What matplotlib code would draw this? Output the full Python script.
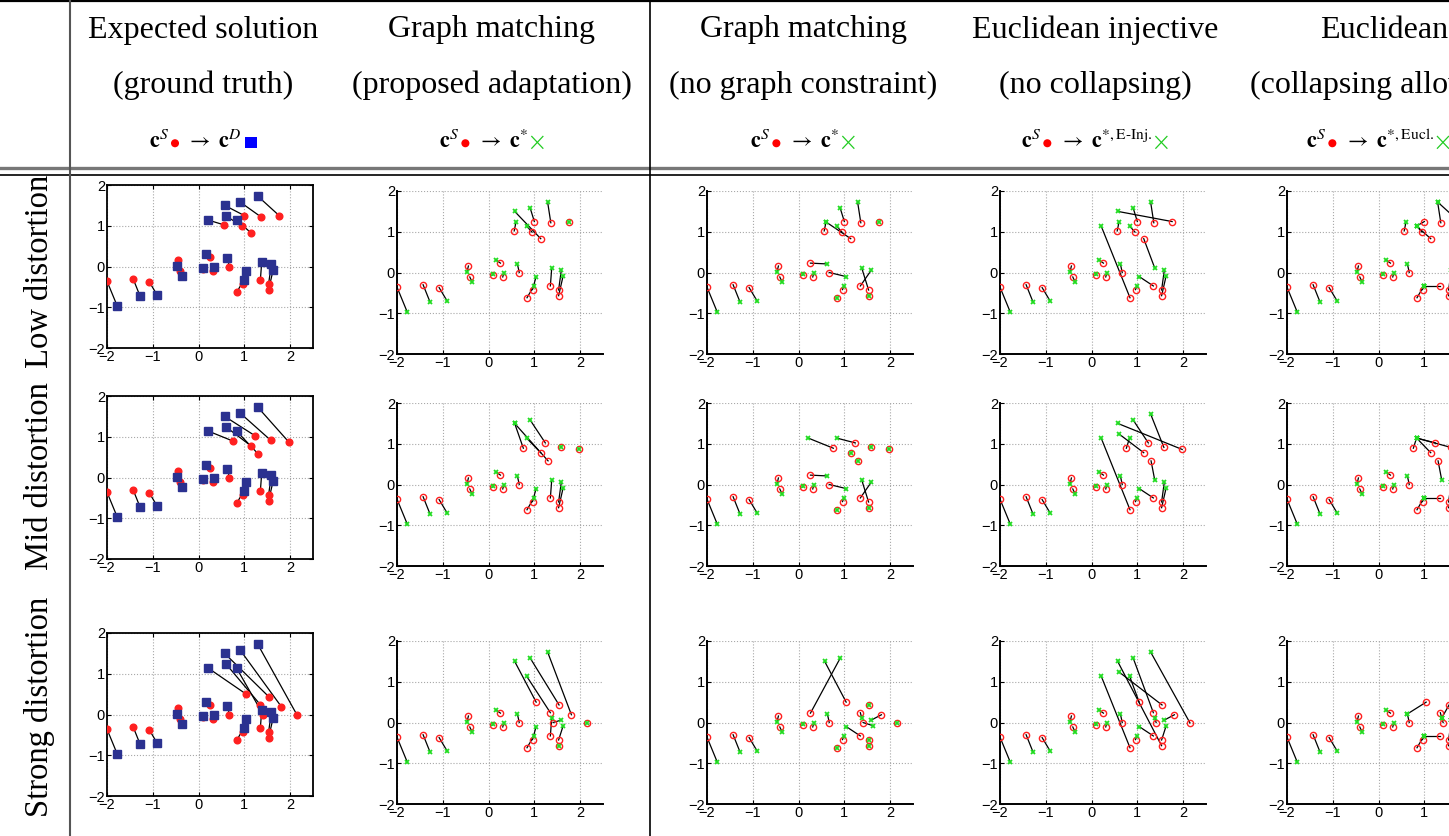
"""
Point-set matching comparison table: 3 distortion levels x 5 methods.
"""
import matplotlib.pyplot as plt
import numpy as np
from matplotlib.lines import Line2D
from matplotlib.patches import Circle, Rectangle
from matplotlib.offsetbox import TextArea, HPacker, AnnotationBbox, DrawingArea

plt.rcParams['mathtext.fontset'] = 'stix'
plt.rcParams['font.family'] = ['Liberation Sans', 'DejaVu Sans']

# ---- data -----------------------------------------------------------------
# destination points c^D (same for every distortion level)
dest_x = [-1.78, -1.28, -0.91, -0.47, -0.36, 0.10, 0.17, 0.33, 0.63, 0.99,
          1.04, 1.38, 1.59, 1.63, 0.21, 0.57, 0.60, 0.83, 0.91, 1.29]
dest_y = [-0.96, -0.72, -0.69, 0.02, -0.23, -0.03, 0.30, -0.02, 0.21, -0.33,
          -0.10, 0.11, 0.06, -0.08, 1.14, 1.50, 1.24, 1.14, 1.58, 1.73]

# source points c^S: 14 shared points + 6 distorted points per level
src_base_x = [-2.00, -1.43, -1.08, -0.44, -0.41, 0.09, 0.26, 0.31, 0.67,
              0.84, 0.96, 1.35, 1.53, 1.53]
src_base_y = [-0.36, -0.30, -0.37, 0.16, -0.11, -0.06, 0.23, -0.11, 0.00,
              -0.62, -0.42, -0.33, -0.43, -0.57]
src_top_x = {'low': [0.56, 1.00, 0.95, 1.14, 1.36, 1.76],
             'mid': [0.76, 1.24, 1.14, 1.30, 1.58, 1.98],
             'strong': [1.04, 1.54, 1.35, 1.41, 1.81, 2.15]}
src_top_y = {'low': [1.02, 1.25, 0.99, 0.83, 1.22, 1.25],
             'mid': [0.89, 1.02, 0.78, 0.58, 0.91, 0.86],
             'strong': [0.50, 0.43, 0.24, 0.00, 0.19, -0.01]}

levels = ['low', 'mid', 'strong']
row_labels = ['Low distortion', 'Mid distortion', 'Strong distortion']

# matched destination index for every source point (-1: stays in place)
base = list(range(9))
match_gm = {'low': base + [9, 10, 11, 12, 13, 16, 18, 17, 15, 19, -1],
            'mid': base + [9, 10, 11, 12, 13, 15, 18, 17, 15, -1, -1],
            'strong': base + [9, 10, 11, 13, -1, 15, 18, 17, 12, 19, -1]}
match_nograph = {'low': [0, 1, 2, 3, 4, 5, 8, 7, 10, -1, 9, 12, 11, -1,
                         16, 18, 17, 16, 19, -1],
                 'mid': [0, 1, 2, 3, 4, 5, 8, 7, 10, -1, 9, 12, 11, -1,
                         14, 17, -1, -1, -1, -1],
                 'strong': [0, 1, 2, 3, 4, 5, 18, 7, 8, -1, 9, 10, -1, -1,
                            15, -1, 11, 13, 12, -1]}
match_einj = {'low': base + [14, 9, 10, 12, 13, 16, 18, 17, 11, 19, 15],
              'mid': base + [14, 9, 10, 12, 13, 17, 18, 16, 11, 19, 15],
              'strong': base + [14, 9, 10, 13, 15, 17, 16, 18, 11, 12, 19]}
match_eucl = {'low': base + [9, 9, 9, 12, 13, 16, 17, 17, 17, 19, 19],
              'mid': base + [9, 9, 9, 12, 13, 17, 17, 17, 11, 17, 12],
              'strong': base + [9, 9, 9, 12, 13, 8, 11, 11, 11, 12, 12]}
methods = [match_gm, match_nograph, match_einj, match_eucl]

head1 = ['Expected solution', 'Graph matching', 'Graph matching',
         'Euclidean injective', 'Euclidean']
head2 = ['(ground truth)', '(proposed adaptation)', '(no graph constraint)',
         '(no collapsing)', '(collapsing allowed)']
head_target = [r'$\ \rightarrow\ \mathbf{c}^{D}$', r'$\ \rightarrow\ \mathbf{c}^{*}$',
               r'$\ \rightarrow\ \mathbf{c}^{*}$',
               r'$\ \rightarrow\ \mathbf{c}^{*,\mathrm{E\text{-}Inj.}}$',
               r'$\ \rightarrow\ \mathbf{c}^{*,\mathrm{Eucl.}}$']

# ---- layout ---------------------------------------------------------------
W, H = 1449, 836
fig = plt.figure(figsize=(W / 100, H / 100), dpi=100)


def fx(px):
    return px / W


def fy(py):
    return 1 - py / H


RED = '#ff2020'
NAVY = '#2b3190'
GREEN = '#22dd22'
col_left = [107, 397, 707, 1000, 1287]
col_w = 206
top_gt = [185, 396, 633]
top_other = [191, 403, 641]
ax_h = 163

D = np.column_stack([dest_x, dest_y])

for r, lev in enumerate(levels):
    S = np.column_stack([src_base_x + src_top_x[lev],
                         src_base_y + src_top_y[lev]])
    for c in range(5):
        top = top_gt[r] if c == 0 else top_other[r]
        ax = fig.add_axes([fx(col_left[c]), fy(top + ax_h),
                           col_w / W, ax_h / H])
        ax.set_xlim(-2, 2.5)
        ax.set_ylim(-2, 2)
        ax.set_xticks([-2, -1, 0, 1, 2])
        ax.set_yticks([-2, -1, 0, 1, 2])
        ax.grid(True, linestyle=':', color='#a8a8a8', linewidth=0.8)
        ax.set_axisbelow(True)
        ax.tick_params(direction='in', length=3, width=0.8, pad=1.5,
                       labelsize=10.5)
        if c == 0:
            ax.tick_params(top=True, right=True)
            for sp in ax.spines.values():
                sp.set_linewidth(1.3)
            for i in range(len(S)):
                ax.plot([S[i, 0], D[i, 0]], [S[i, 1], D[i, 1]],
                        color='k', lw=0.9, zorder=2)
            ax.plot(S[:, 0], S[:, 1], 'o', color=RED, ms=4.8, mec=RED,
                    zorder=3)
            ax.plot(D[:, 0], D[:, 1], 's', color=NAVY, ms=6.2, mec=NAVY,
                    zorder=4)
        else:
            ax.spines['top'].set_visible(False)
            ax.spines['right'].set_visible(False)
            ax.spines['left'].set_linewidth(1.4)
            ax.spines['bottom'].set_linewidth(1.4)
            idx = np.array(methods[c - 1][lev])
            T = np.where(idx[:, None] < 0, S, D[np.clip(idx, 0, None)])
            for i in range(len(S)):
                ax.plot([S[i, 0], T[i, 0]], [S[i, 1], T[i, 1]],
                        color='k', lw=0.9, zorder=2)
            ax.plot(S[:, 0], S[:, 1], 'o', mfc='none', mec=RED, ms=4.5,
                    mew=1.0, zorder=3)
            ax.plot(T[:, 0], T[:, 1], 'x', color=GREEN, ms=3, mew=1.3,
                    zorder=4)

# ---- table lines ----------------------------------------------------------
def hline(y, color, lw):
    fig.add_artist(Line2D([0, 1], [fy(y), fy(y)], transform=fig.transFigure,
                          color=color, lw=lw))


def vline(x, color, lw):
    fig.add_artist(Line2D([fx(x), fx(x)], [0, 1], transform=fig.transFigure,
                          color=color, lw=lw))


hline(1, 'black', 1.6)
hline(168, '#777777', 2.4)
hline(175, 'black', 1.2)
vline(70, '#555555', 1.5)
vline(650, 'black', 1.2)

# ---- header ---------------------------------------------------------------
serif = 'Liberation Serif'


def red_dot():
    da = DrawingArea(7, 9, 0, 0)
    da.add_artist(Circle((3.5, 3.6), 2.9, color='red', lw=0))
    return da


def blue_square():
    da = DrawingArea(10, 9, 0, 0)
    da.add_artist(Rectangle((1.2, 0), 8.2, 8.2, color='#0000ff', lw=0))
    return da


def green_cross():
    da = DrawingArea(11, 9, 0, 0)
    da.add_artist(Line2D([1.5, 9.5], [0, 8.5], color='#22cc22', lw=0.9))
    da.add_artist(Line2D([1.5, 9.5], [8.5, 0], color='#22cc22', lw=0.9))
    return da


centers = [203, 492, 803, 1095, None]
for c in range(5):
    if centers[c] is not None:
        fig.text(fx(centers[c]), fy(30), head1[c], ha='center', va='center',
                 family=serif, fontsize=23)
        fig.text(fx(centers[c]), fy(85), head2[c], ha='center', va='center',
                 family=serif, fontsize=23)
    else:
        fig.text(fx(1320), fy(30), head1[c], ha='left', va='center',
                 family=serif, fontsize=23)
        fig.text(fx(1250), fy(85), head2[c], ha='left', va='center',
                 family=serif, fontsize=23)

    parts = [TextArea(r'$\mathbf{c}^{S}$', textprops=dict(fontsize=16)),
             red_dot(),
             TextArea(head_target[c], textprops=dict(fontsize=16)),
             blue_square() if c == 0 else green_cross()]
    box = HPacker(children=parts, align='baseline', pad=0, sep=1)
    if centers[c] is not None:
        ab = AnnotationBbox(box, (fx(centers[c]), fy(142)),
                            xycoords='figure fraction', frameon=False,
                            box_alignment=(0.5, 0.5), pad=0)
    else:
        ab = AnnotationBbox(box, (fx(1306), fy(142)),
                            xycoords='figure fraction', frameon=False,
                            box_alignment=(0.0, 0.5), pad=0)
    fig.add_artist(ab)

# ---- row labels -----------------------------------------------------------
row_centers = [271, 476, 707]
for r in range(3):
    fig.text(fx(40), fy(row_centers[r]), row_labels[r], rotation=90,
             ha='center', va='center', family=serif, fontsize=23.5)

fig.savefig('out.png', dpi=100)
